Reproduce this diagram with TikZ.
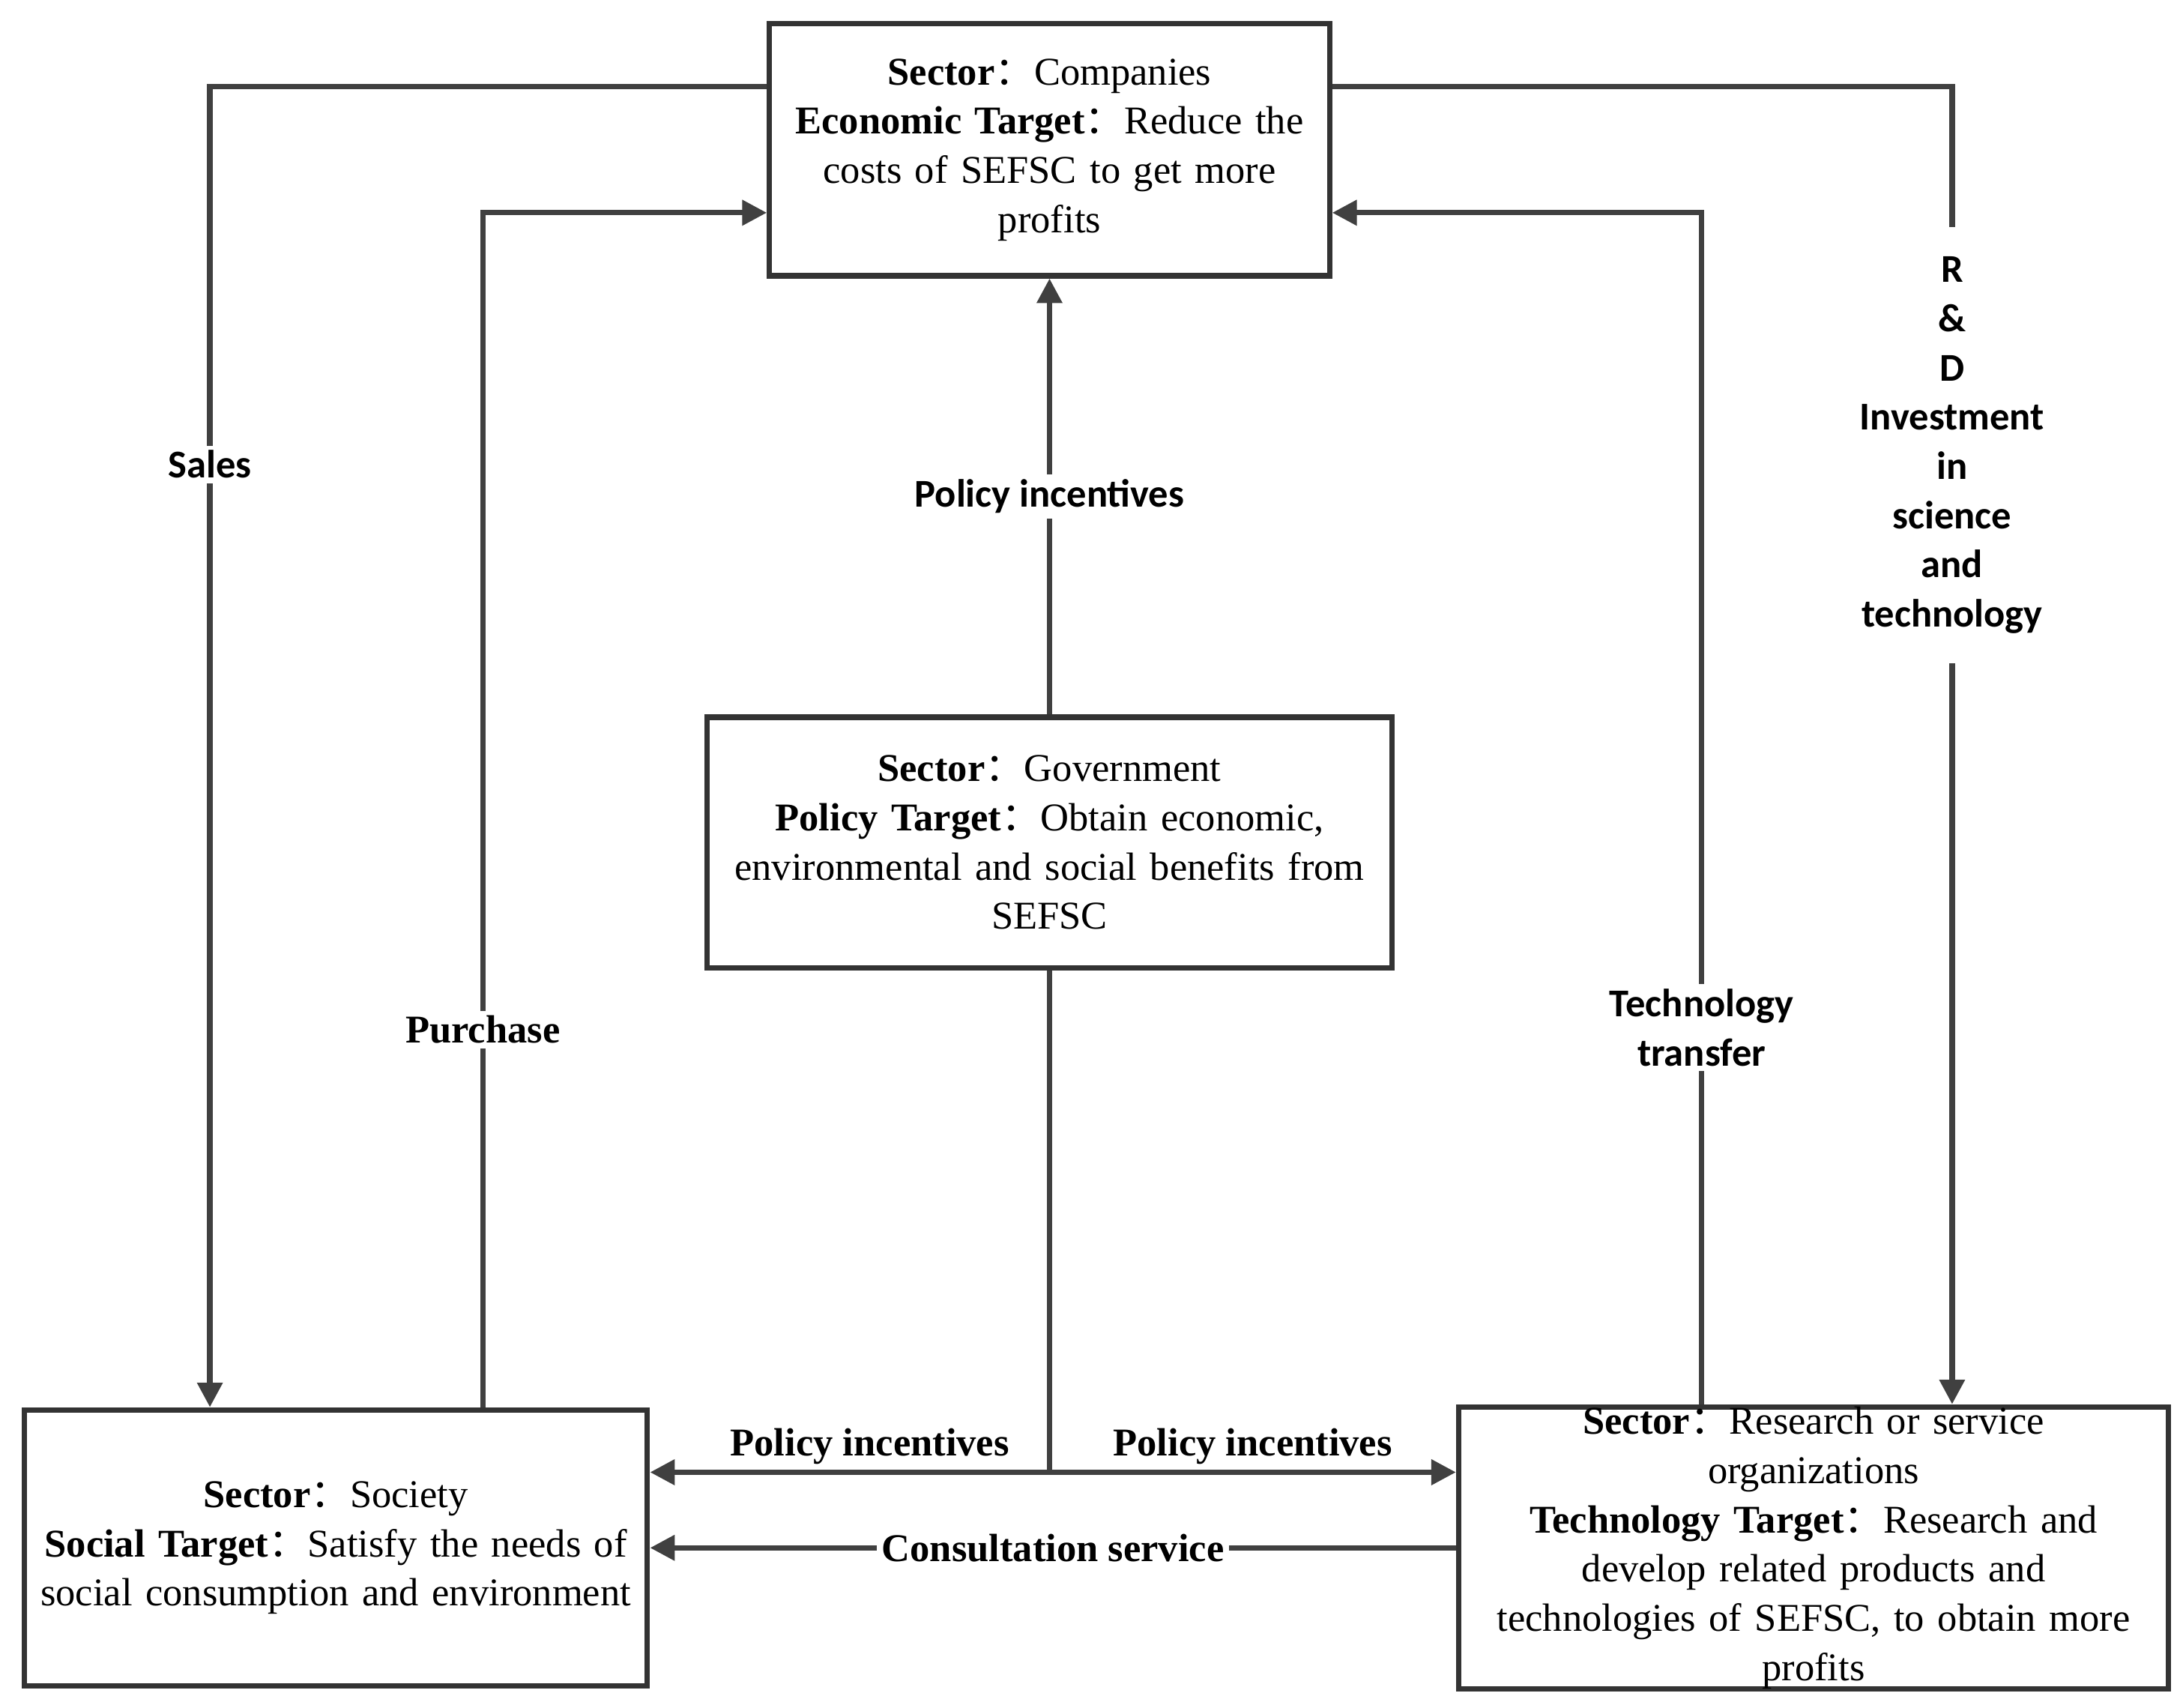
\documentclass[tikz,border=0pt]{standalone}
\usepackage{fontspec}
\setmainfont{Liberation Serif}
\newfontfamily\lab{Carlito}
\newfontfamily\cjk{Noto Sans CJK SC}
\usetikzlibrary{arrows.meta}
\newcommand{\cc}{{\cjk ：}}
\begin{document}
\begin{tikzpicture}[x=0.01cm,y=-0.01cm,
  every node/.style={font=\fontsize{8}{10}\selectfont, align=center},
  sector/.style={draw=black!80, line width=1.1pt, inner sep=0pt},
  flow/.style={draw=black!75, line width=1.1pt, -{Triangle[length=5pt,width=5pt]}},
  tag/.style={font=\lab\bfseries\fontsize{8}{10}\selectfont, fill=white, inner sep=1pt},
  stag/.style={font=\bfseries\fontsize{8}{10}\selectfont, fill=white, inner sep=1pt}]
\useasboundingbox (0,0) rectangle (1560,1220);
% boxes
\node[sector, text width=4cm, minimum height=1.8cm] (com) at (750,107)
  {\textbf{Sector}\cc Companies\\ \textbf{Economic Target}\cc Reduce the\\ costs of SEFSC to get more\\ profits};
\node[sector, text width=4.89cm, minimum height=1.79cm] (gov) at (750,602)
  {\textbf{Sector}\cc Government\\ \textbf{Policy Target}\cc Obtain economic,\\ environmental and social benefits from\\ SEFSC};
\node[sector, text width=4.45cm, minimum height=1.97cm] (soc) at (240,1106)
  {\textbf{Sector}\cc Society\\ \textbf{Social Target}\cc Satisfy the needs of\\ social consumption and environment};
\node[sector, text width=5.07cm, minimum height=1.97cm] (res) at (1296,1106)
  {\textbf{Sector}\cc Research or service\\ organizations\\ \textbf{Technology Target}\cc Research and\\ develop related products and\\ technologies of SEFSC, to obtain more\\ profits};
% connectors
\coordinate (sa) at (com.west |- 0,62);
\coordinate (rd) at (com.east |- 0,62);
\draw[flow] (sa) -| (soc.north -| 150,0) node[tag, pos=0.643] {Sales};
\draw[flow] (soc.north -| 345,0) |- (com.west |- 0,152) node[stag, pos=0.158] {Purchase};
\draw[flow] (gov.north) -- (com.south) node[tag, pos=0.5] {Policy incentives};
\coordinate (mid) at (750,1052);
\draw[draw=black!75, line width=1.1pt] (gov.south) -- (mid);
\draw[flow] (mid) -- (soc.east |- mid) node[stag, above, fill=none, pos=0.45] {Policy incentives};
\draw[flow] (mid) -- (res.west |- mid) node[stag, above, fill=none, pos=0.5] {Policy incentives};
\draw[flow] (res.west |- 0,1106) -- (soc.east |- 0,1106) node[stag, pos=0.5] {Consultation service};
\draw[flow] (res.north -| 1216,0) |- (com.east |- 0,152) node[tag, pos=0.158] {Technology\\ transfer};
\draw[flow] (rd) -| (res.north -| 1395,0) node[tag, pos=0.636, inner ysep=6pt] {R\\ \&\\ D\\ Investment\\ in\\ science\\ and\\ technology};
\end{tikzpicture}
\end{document}
